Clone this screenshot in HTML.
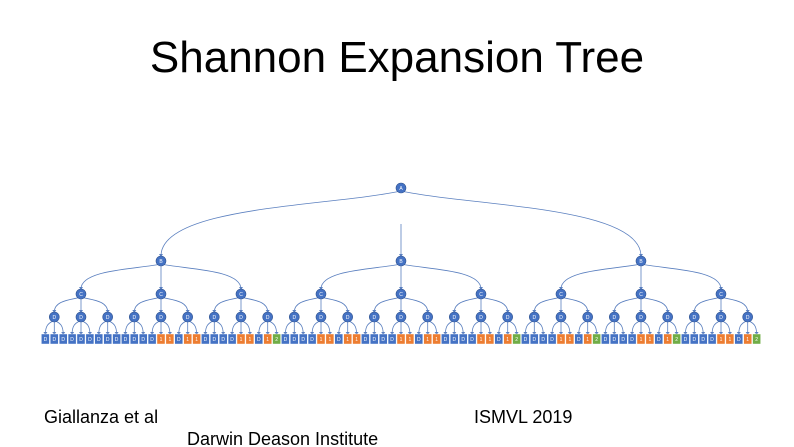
<!DOCTYPE html>
<html><head><meta charset="utf-8"><style>
body{margin:0;background:#fff;}
#wrap{position:relative;width:794px;height:447px;overflow:hidden;font-family:"Liberation Sans",sans-serif;}
.t{position:absolute;white-space:nowrap;color:#000;}
</style></head><body>
<div id="wrap">
<div class="t" style="left:0;width:794px;text-align:center;top:33px;font-size:44px;">Shannon Expansion Tree</div>
<svg id="tree" width="794" height="447" style="position:absolute;left:0;top:0"></svg>
<div class="t" style="left:44px;top:407px;font-size:18px;">Giallanza et al</div>
<div class="t" style="left:474px;top:407px;font-size:18px;">ISMVL 2019</div>
<div class="t" style="left:187px;top:429px;font-size:18px;">Darwin Deason Institute</div>
</div>
<script>
const leafColors=["BBB","BBB","BBB","BBB","BOO","BOO","BBB","BOO","BOG",
"BBB","BOO","BOO","BBB","BOO","BOO","BBB","BOO","BOG",
"BBB","BOO","BOG","BBB","BOO","BOG","BBB","BOO","BOG"];
const levelLabels=["A","B","C","D"];
const svg=document.getElementById('tree');
const NS="http://www.w3.org/2000/svg";
const blue="#4472c4",edge="#5a7fbf";
const ys=[188,261,294,317,339];
function mk(t,a){const e=document.createElementNS(NS,t);for(const k in a)e.setAttribute(k,a[k]);svg.appendChild(e);return e;}
function edgeTo(x1,y1,x2,y2,lvl){
  let d;
  if(Math.abs(x2-x1)<1){d=`M${x1},${lvl===0?224:y1+5} L${x2},${y2-5}`;}
  else d=`M${x1},${y1+3} C${x1+(x2-x1)*0.3},${y1+(y2-y1)*0.25} ${x2},${y1+(y2-y1)*0.25} ${x2},${y2-5}`;
  const p=mk('path',{d:d,stroke:edge,'stroke-width':0.8,fill:'none'});
  
  mk('path',{d:`M${x2-2},${y2-7} L${x2+2},${y2-7} L${x2},${y2-4}Z`,fill:edge});
}
function node(x,y,l){
  const c=mk('circle',{cx:x,cy:y,r:5,fill:blue,stroke:'#2f528f','stroke-width':0.6});
  
  const t=mk('text',{x:x,y:y+2,'font-size':5,fill:'#fff','text-anchor':'middle','font-family':'Liberation Sans'});t.textContent=l;
}
const w=[240,80,26.7,8.9];
function build(x,lvl,idx){
  if(lvl===4){return;}
  const kids=[-1,0,1].map(k=>x+k*w[lvl]);
  kids.forEach((kx,k)=>{
    edgeTo(x,ys[lvl],kx,ys[lvl+1],lvl);
    if(lvl<3){build(kx,lvl+1,idx*3+k);}
    else{
      const c=leafColors[idx][k];
      const col=c==='B'?blue:c==='O'?'#ed7d31':'#70ad47';
      const r=mk('rect',{x:kx-4,y:ys[4]-5,width:8,height:10,fill:col,stroke:'#fff','stroke-width':0.4});
      
      const t=mk('text',{x:kx,y:ys[4]+2,'font-size':5,fill:'#fff','text-anchor':'middle','font-family':'Liberation Sans'});
      t.textContent=c==='B'?'D':c==='O'?'1':'2';
    }
  });
  node(x,ys[lvl],levelLabels[lvl]);
}
build(401,0,0);
</script>
</body></html>
